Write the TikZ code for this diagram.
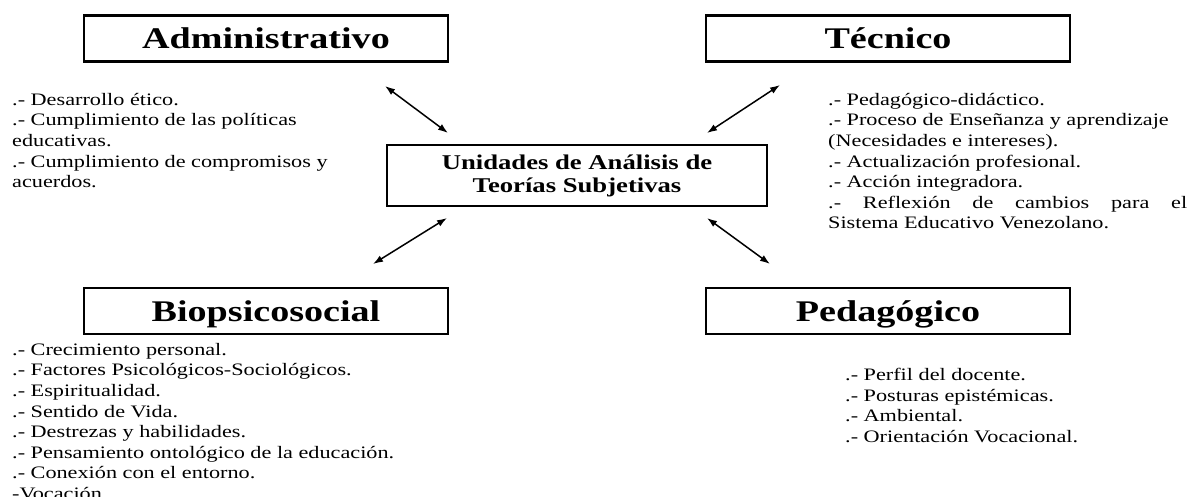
\documentclass[tikz,border=0pt]{standalone}
\usepackage{fontspec}
\setmainfont{Liberation Serif}[FakeStretch=1.27]
\usetikzlibrary{arrows.meta}
\begin{document}
\begin{tikzpicture}[x=1pt,y=-1pt,
  box/.style={draw, line width=2.4pt, inner sep=0pt, minimum width=364pt},
  head/.style={box, minimum height=46pt, text height=24pt, text depth=4pt,
    font=\fontsize{30}{34}\selectfont\bfseries},
  center/.style={draw, line width=2.4pt, inner sep=0pt, minimum width=380pt,
    minimum height=61pt, align=center, font=\fontsize{21}{23}\selectfont\bfseries},
  list/.style={anchor=north west, inner sep=0pt, align=left,
    font=\fontsize{17.5}{20.6}\selectfont},
  dbl/.style={{Latex[length=10pt,width=7pt]}-{Latex[length=10pt,width=7pt]}, line width=1.5pt}]
\useasboundingbox (0,0) rectangle (1188,497);

% heading boxes
\node[head] (adm) at (266,38.5) {Administrativo};
\node[head] (tec) at (888,38.5) {Técnico};
\node[head] (bio) at (266,311) {Biopsicosocial};
\node[head] (ped) at (888,311) {Pedagógico};

% centre box
\node[center] (uni) at (577,175.5) {Unidades de Análisis de\\Teorías Subjetivas};

% lists
\node[list] (ladm) at (12,93) {.- Desarrollo ético.\\
.- Cumplimiento de las políticas\\
educativas.\\
.- Cumplimiento de compromisos y\\
acuerdos.};

\node[list, text width=359pt, align=justify] (ltec) at (828,93) {%
.- Pedagógico-didáctico.\par
.- Proceso de Enseñanza y aprendizaje\\
(Necesidades e intereses).\par
.- Actualización profesional.\par
.- Acción integradora.\par
.- Reflexión de cambios para el\linebreak Sistema Educativo Venezolano.};

\node[list] (lbio) at (12,343) {.- Crecimiento personal.\\
.- Factores Psicológicos-Sociológicos.\\
.- Espiritualidad.\\
.- Sentido de Vida.\\
.- Destrezas y habilidades.\\
.- Pensamiento ontológico de la educación.\\
.- Conexión con el entorno.\\
-Vocación.};

\node[list] (lped) at (845,368) {.- Perfil del docente.\\
.- Posturas epistémicas.\\
.- Ambiental.\\
.- Orientación Vocacional.};

% arrow end points
\coordinate (a1s) at (385,86);  \coordinate (a1e) at (448,133);
\coordinate (a2s) at (780,85);  \coordinate (a2e) at (707,133);
\coordinate (a3s) at (447,218); \coordinate (a3e) at (373,264);
\coordinate (a4s) at (707,218); \coordinate (a4e) at (770,264);

\draw[dbl] (a1s) -- (a1e);
\draw[dbl] (a2s) -- (a2e);
\draw[dbl] (a3s) -- (a3e);
\draw[dbl] (a4s) -- (a4e);
\end{tikzpicture}
\end{document}
